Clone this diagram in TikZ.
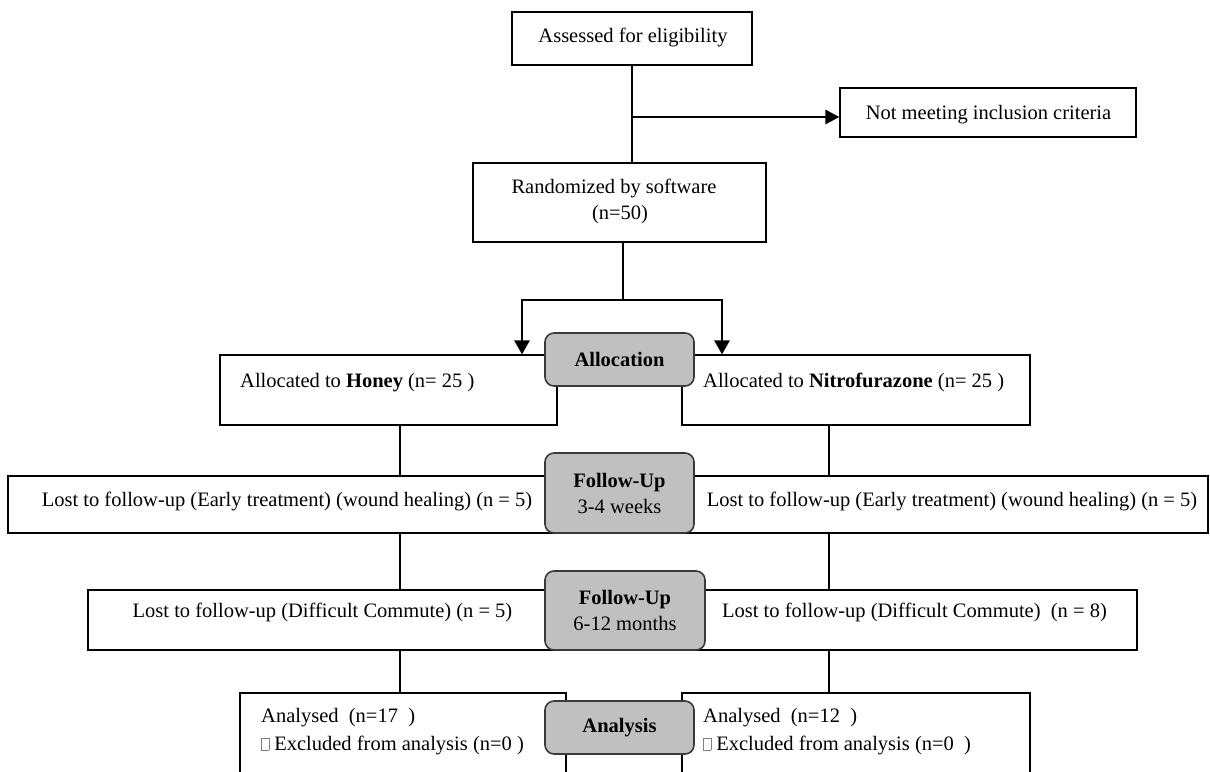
\documentclass[tikz,border=0pt]{standalone}
\usepackage{fontspec}
\setmainfont{Liberation Serif}
\usetikzlibrary{arrows.meta}
\newcommand{\tofu}{{\color{gray}\setlength{\fboxsep}{0pt}\setlength{\fboxrule}{0.5pt}\fbox{\rule{0pt}{0.55em}\hspace{0.34em}}}}
\newcommand{\basefont}{\fontsize{20.5}{24}\selectfont}
\definecolor{phasegray}{HTML}{C0C0C0}
\definecolor{phaseline}{HTML}{3A3A3A}
\tikzset{
  box/.style={draw=black, line width=1.1pt, fill=white, inner sep=0pt, align=center},
  phase/.style={draw=phaseline, line width=1.6pt, fill=phasegray, rounded corners=9pt, inner sep=0pt, align=center, font=\basefont\bfseries},
  txt/.style={inner sep=0pt, anchor=base west},
  ctxt/.style={inner sep=0pt, anchor=base},
  conn/.style={line width=1.1pt},
  bigarrow/.style={line width=2.8pt, -{Triangle[length=14pt,width=15pt]}},
  midarrow/.style={line width=2.6pt, -{Triangle[length=14pt,width=14pt]}},
}
\begin{document}
\begin{tikzpicture}[x=1pt,y=-1pt,font=\basefont]
\clip (0,0) rectangle (1210,771);
\fill[white] (0,0) rectangle (1210,771);
% top boxes
\node[box, minimum width=240pt, minimum height=53pt] (assess) at (632,38.5) {};
\node[ctxt] (assesst) at (633,42) {Assessed for eligibility};
\node[box, minimum width=296pt, minimum height=49pt] (notmeet) at (988,112.5) {};
\node[ctxt] (notmeett) at (988.5,119) {Not meeting inclusion criteria};
\node[box, minimum width=293pt, minimum height=79pt] (rand) at (619.5,202.5) {};
\node[ctxt] (randt1) at (614,193) {Randomized by software};
\node[ctxt] (randt2) at (620,219) {(n=50)};
\coordinate (branch) at (632,117);
\draw[conn] (assess.south) -- (rand.north -| assess.south);
\draw[midarrow] (branch) -- (notmeet.west |- branch);
% allocation boxes
\node[box, minimum width=337pt, minimum height=70pt] (honey) at (388.5,390) {};
\node[box, minimum width=348pt, minimum height=70pt] (nitro) at (856,390) {};
\node[txt] (honeyt) at (240,387) {Allocated to \textbf{Honey} (n= 25 )};
\node[txt] (nitrot) at (703,387) {Allocated to \textbf{Nitrofurazone} (n= 25 )};
\coordinate (split) at (623,300);
\coordinate (armL) at (522,300);
\coordinate (armR) at (722,300);
\draw[line width=2.8pt] (rand.south -| split) -- (split);
\draw[bigarrow] (split) -- (armL) -- (honey.north -| armL);
\draw[bigarrow] (split) -- (armR) -- (nitro.north -| armR);
% columns
\coordinate (colL) at (400,0);
\coordinate (colR) at (829,0);
% lost row 1
\node[box, minimum width=549pt, minimum height=57pt] (lost1L) at (282.5,504.5) {};
\node[box, minimum width=526pt, minimum height=57pt] (lost1R) at (945,504.5) {};
\node[ctxt] (lost1Lt) at (287,506) {Lost to follow-up (Early treatment) (wound healing) (n = 5)};
\node[ctxt] (lost1Rt) at (952,506) {Lost to follow-up (Early treatment) (wound healing) (n = 5)};
\draw[conn] (honey.south -| colL) -- (lost1L.north -| colL);
\draw[conn] (nitro.south -| colR) -- (lost1R.north -| colR);
% lost row 2
\node[box, minimum width=512pt, minimum height=60pt] (lost2L) at (344,620) {};
\node[box, minimum width=487pt, minimum height=60pt] (lost2R) at (893.5,620) {};
\node[ctxt] (lost2Lt) at (322.5,617) {Lost to follow-up (Difficult Commute) (n = 5)};
\node[ctxt] (lost2Rt) at (914.5,617) {Lost to follow-up (Difficult Commute)\ \ (n = 8)};
\draw[conn] (lost1L.south -| colL) -- (lost2L.north -| colL);
\draw[conn] (lost1R.south -| colR) -- (lost2R.north -| colR);
% analysis boxes
\node[box, minimum width=326pt, minimum height=100pt] (anaL) at (403,743) {};
\node[box, minimum width=348pt, minimum height=100pt] (anaR) at (856,743) {};
\node[txt] (anaLt1) at (261,722) {Analysed\ \ (n=17\ \ )};
\node[txt] (anaLt2) at (261,750) {\tofu\ Excluded from analysis (n=0 )};
\node[txt] (anaRt1) at (703,722) {Analysed\ \ (n=12\ \ )};
\node[txt] (anaRt2) at (703,750) {\tofu\ Excluded from analysis (n=0\ \ )};
\draw[conn] (lost2L.south -| colL) -- (anaL.north -| colL);
\draw[conn] (lost2R.south -| colR) -- (anaR.north -| colR);
% phase labels
\node[phase, minimum width=149pt, minimum height=53pt] (alloc) at (619.5,359.5) {Allocation};
\node[phase, minimum width=149pt, minimum height=80pt] (fu1) at (619.5,493) {Follow-Up\\[2pt]\mdseries 3-4 weeks};
\node[phase, minimum width=160pt, minimum height=79pt] (fu2) at (625,610.5) {Follow-Up\\[2pt]\mdseries 6-12 months};
\node[phase, minimum width=149pt, minimum height=53pt] (analysis) at (619.5,727.5) {Analysis};
\end{tikzpicture}
\end{document}
